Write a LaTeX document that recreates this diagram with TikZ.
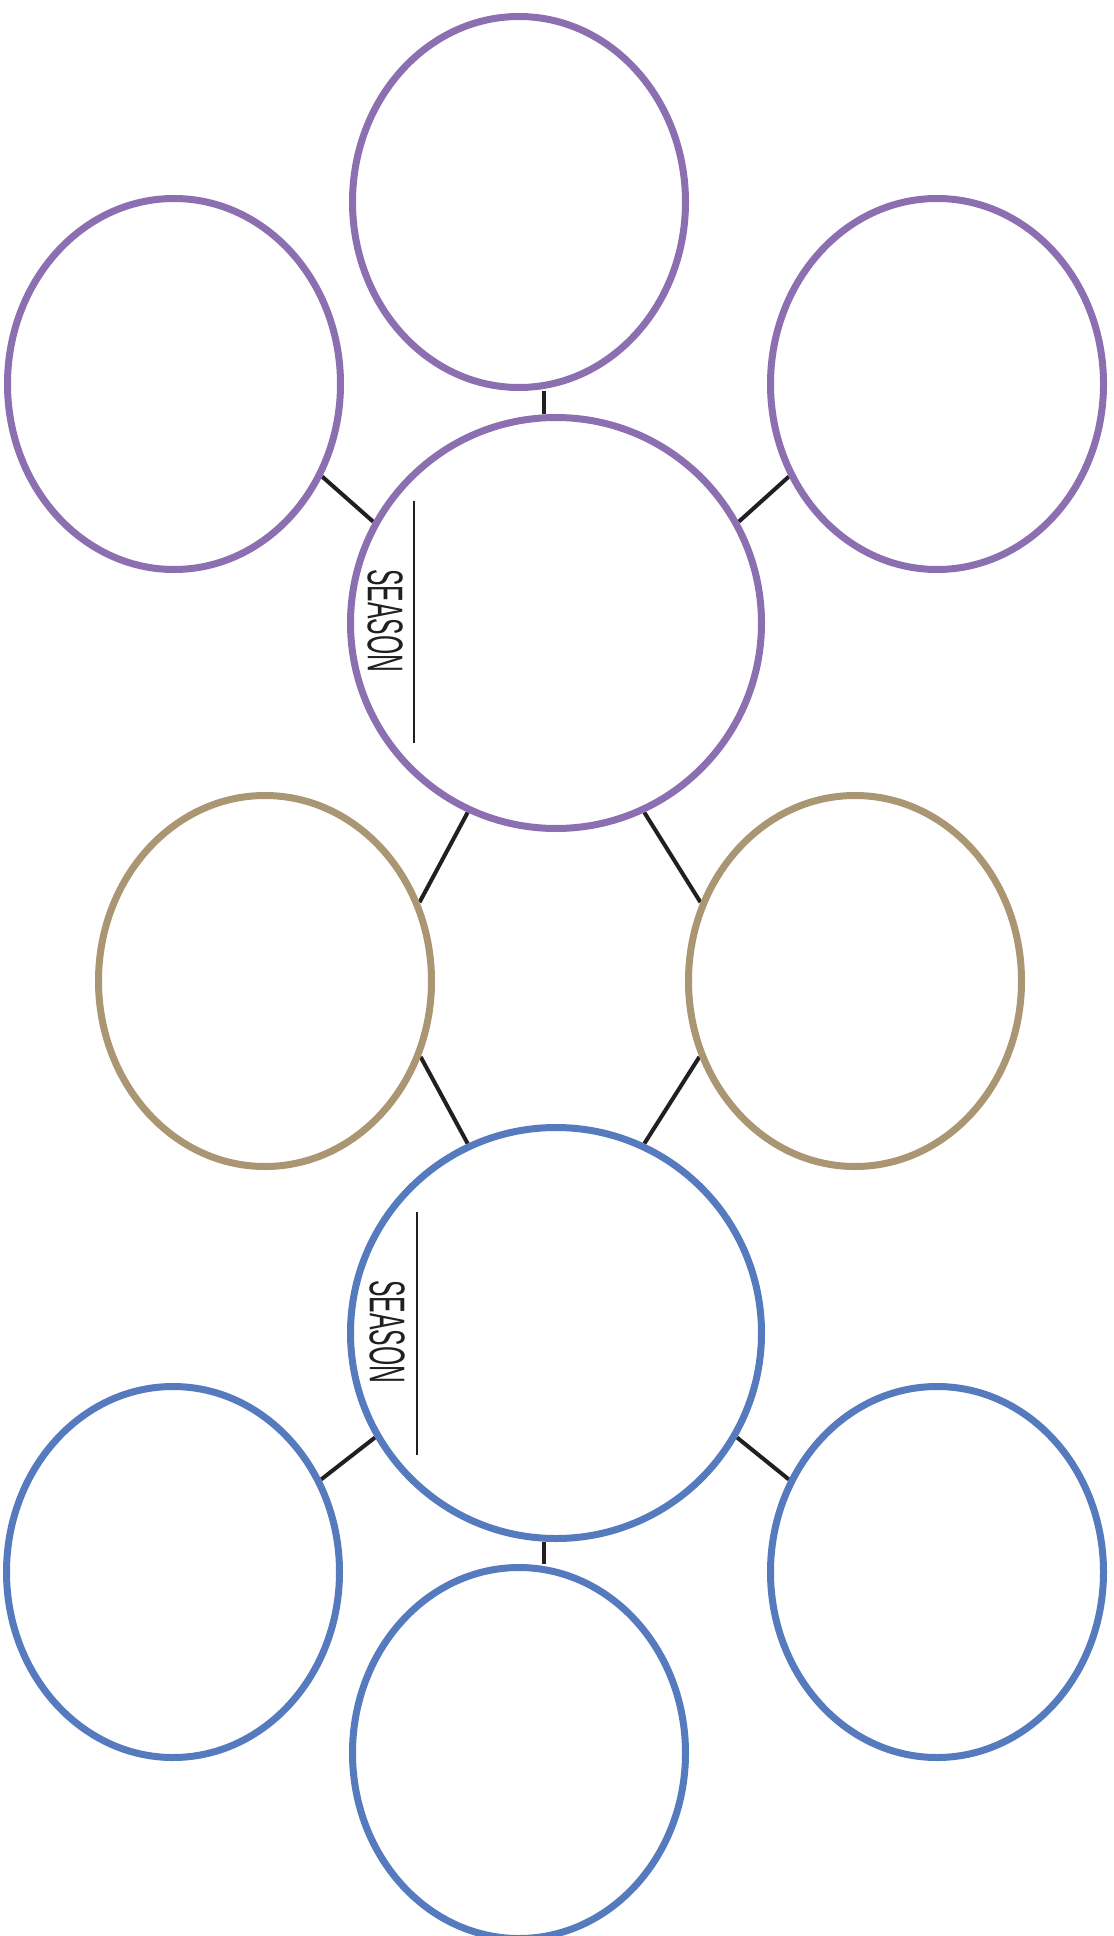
\documentclass[tikz,border=0pt]{standalone}
\usepackage{fontspec}
\newfontfamily\labelfont{Liberation Sans}
\usetikzlibrary{shapes.geometric,backgrounds}
\definecolor{cpurple}{HTML}{8B6FB0}
\definecolor{ctan}{HTML}{AA9673}
\definecolor{cblue}{HTML}{557ABE}
\definecolor{cdark}{HTML}{231F20}
\begin{document}
\begin{tikzpicture}[x=0.5pt,y=-0.5pt,
  oval/.style={ellipse, draw, line width=3.5pt, minimum width=166.5pt, minimum height=185.5pt, inner sep=0pt},
  hub/.style={circle, draw, line width=3.5pt, minimum size=205.5pt, inner sep=0pt},
  link/.style={draw=cdark, line width=2pt},
  rulestroke/.style={draw=cdark, line width=0.8pt},
  lbl/.style={rotate=-90, inner sep=0pt, text=cdark}]
\begin{pgfonlayer}{background}
\fill[white] (0,0) rectangle (1113,1936);
\end{pgfonlayer}
\useasboundingbox (0,0) rectangle (1113,1936);
% top group (purple)
\node[oval, draw=cpurple] (topE) at (519,202) {};
\node[oval, draw=cpurple] (topL) at (174,384) {};
\node[oval, draw=cpurple] (topR) at (937,384) {};
\node[hub, draw=cpurple] (topC) at (556,623) {};
% middle (tan)
\node[oval, draw=ctan] (tanL) at (265,981) {};
\node[oval, draw=ctan] (tanR) at (855,981) {};
% bottom group (blue)
\node[hub, draw=cblue] (botC) at (556,1333) {};
\node[oval, draw=cblue] (botL) at (173,1572) {};
\node[oval, draw=cblue] (botR) at (937,1572) {};
\node[oval, draw=cblue] (botE) at (519,1753) {};
% labels
\node[lbl] (s1) at (385,621) {\resizebox{51.5pt}{17.5pt}{\labelfont SEASON}};
\node[lbl] (s2) at (387,1332) {\resizebox{51.5pt}{17.5pt}{\labelfont SEASON}};
\coordinate (r1a) at (414,501);
\coordinate (r1b) at (414,743);
\coordinate (r2a) at (417,1212);
\coordinate (r2b) at (417,1455);
\draw[rulestroke] (r1a) -- (r1b);
\draw[rulestroke] (r2a) -- (r2b);
% connectors
\begin{pgfonlayer}{background}
\draw[link] ([xshift=12.5pt]topE.south) -- ([xshift=-6pt]topC.north);
\draw[link] (topL.-32) -- (topC.151);
\draw[link] (topC.29) -- (topR.212);
\draw[link] (topC.245) -- (tanL.27);
\draw[link] (topC.295) -- (tanR.153);
\draw[link] (tanL.-26) -- (botC.115);
\draw[link] (tanR.206) -- (botC.65);
\draw[link] (botC.210) -- (botL.32);
\draw[link] (botC.-30) -- (botR.148);
\draw[link] ([xshift=-6pt]botC.south) -- ([xshift=12.5pt]botE.north);
\end{pgfonlayer}
\end{tikzpicture}
\end{document}
